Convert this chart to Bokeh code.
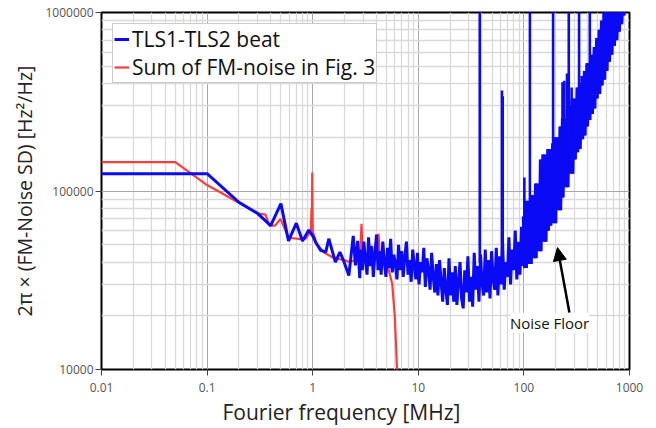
from bokeh.plotting import figure
from bokeh.models import (FixedTicker, Legend, LegendItem, Label, Arrow, NormalHead,
                          CustomJSTickFormatter, Title)
from bokeh.embed import file_html
from bokeh.resources import INLINE

# ---------------- data ----------------
# TLS1-TLS2 beat, low-frequency part [MHz], [Hz^2/Hz]
beat_low_freq = [0.01, 0.1, 0.2, 0.3, 0.4, 0.5, 0.59, 0.7, 0.8, 0.92,
                 1.02, 1.06, 1.19, 1.33, 1.42, 1.64, 1.81, 1.95, 2.2, 2.42,
                 2.54, 2.67, 2.79]
beat_low_value = [125000, 125000, 86500, 75000, 64000, 85000, 52500, 66000, 52500, 60500,
                  55000, 52000, 46500, 45500, 54000, 40000, 45500, 41000, 33600, 56000,
                  38300, 52600, 32500]

# beat, noisy mid band 2.85 - 100 MHz
beat_mid_freq = [2.85, 2.95, 3.05, 3.16, 3.27, 3.38, 3.5, 3.62, 3.75, 3.88,
                 4.02, 4.16, 4.3, 4.45, 4.61, 4.77, 4.94, 5.11, 5.29, 5.47,
                 5.66, 5.86, 6.07, 6.28, 6.5, 6.73, 6.96, 7.2, 7.46, 7.72,
                 7.99, 8.27, 8.56, 8.86, 9.17, 9.49, 9.82, 10.16, 10.52, 10.89,
                 11.27, 11.66, 12.07, 12.49, 12.93, 13.38, 13.85, 14.33, 14.83, 15.35,
                 15.89, 16.45, 17.02, 17.62, 18.23, 18.87, 19.53, 20.21, 20.92, 21.65,
                 22.41, 23.19, 24.0, 24.84, 25.71, 26.61, 27.54, 28.5, 29.5, 30.53,
                 31.6, 32.71, 33.85, 35.04, 36.26, 37.53, 38.84, 40.2, 41.61, 43.07,
                 44.58, 46.14, 47.75, 49.42, 51.15, 52.94, 54.79, 56.71, 58.69, 60.75,
                 62.87, 65.07, 67.35, 69.71, 72.15, 74.68, 77.29, 80.0, 82.8, 85.7,
                 88.7, 91.8, 95.0, 98.3]
beat_mid_value = [47000, 36000, 52000, 41000, 34000, 55000, 38000, 49000, 33000, 44000,
                  57000, 36000, 46000, 34000, 52000, 40000, 33000, 48000, 37000, 54000,
                  35000, 44000, 39000, 32000, 50000, 36000, 46000, 33000, 43000, 52000,
                  34000, 41000, 31000, 47000, 38000, 32000, 45000, 30000, 40000, 35000,
                  48000, 29000, 42000, 36000, 28000, 45000, 33000, 27000, 39000, 26000,
                  41000, 31000, 24000, 37000, 28000, 23000, 42000, 26000, 35000, 24000,
                  38000, 23000, 31000, 40000, 25000, 22000, 36000, 27000, 43000, 24000,
                  33000, 22500, 45000, 28000, 38000, 24000, 44000, 30000, 26000, 47000,
                  27000, 41000, 25000, 46000, 32000, 28000, 48000, 26000, 43000, 30000,
                  51000, 28000, 40000, 33000, 55000, 30000, 47000, 36000, 60000, 32000,
                  52000, 34000, 63000, 38000]

# beat, rising band 100 - 880 MHz
beat_high_freq = [100.8, 103.5, 106.3, 109.2, 112.1, 115.1, 118.2, 121.4, 124.7, 128.1,
                  131.6, 135.1, 138.8, 142.5, 146.4, 150.3, 154.4, 158.6, 162.9, 167.3,
                  171.8, 176.4, 181.2, 186.1, 191.1, 196.3, 201.6, 207.0, 212.6, 218.4,
                  224.3, 230.3, 236.5, 242.9, 249.5, 256.2, 263.1, 270.2, 277.5, 285.0,
                  292.7, 300.6, 308.7, 317.0, 325.6, 334.4, 343.4, 352.7, 362.2, 372.0,
                  382.0, 392.3, 402.9, 413.8, 425.0, 436.5, 448.3, 460.4, 472.8, 485.6,
                  498.7, 512.2, 526.0, 540.2, 554.8, 569.8, 585.2, 601.0, 617.2, 633.9,
                  651.0, 668.6, 686.7, 705.2, 724.2, 743.8, 763.9, 784.5, 805.7, 827.5,
                  849.8, 872.7]
beat_high_value = [72000, 37000, 88000, 45000, 80000, 39000, 95000, 48000, 86000, 42000,
                   110000, 50000, 98000, 46000, 150000, 58000, 160000, 52000, 145000, 60000,
                   172000, 64000, 150000, 70000, 185000, 66000, 200000, 82000, 178000, 78000,
                   230000, 92000, 255000, 110000, 238000, 105000, 285000, 130000, 300000, 125000,
                   330000, 150000, 310000, 165000, 380000, 172000, 400000, 195000, 440000, 205000,
                   470000, 230000, 520000, 250000, 500000, 270000, 580000, 290000, 640000, 330000,
                   720000, 350000, 800000, 390000, 900000, 420000, 1100000, 470000, 1200000, 530000,
                   1200000, 580000, 1200000, 650000, 1200000, 700000, 1200000, 780000, 1200000, 860000,
                   1200000, 960000]

# narrow spurs on the beat trace
spike_freq = [38.2, 62.0, 63.0, 101.0, 114.0, 189.0, 232.0, 241.0, 256.0, 266.0, 283.0, 333.0, 421.0]
spike_base = [40000, 35000, 35000, 60000, 60000, 100000, 130000, 140000, 150000, 160000, 200000, 250000, 350000]
spike_top = [1200000, 366000, 340000, 119000, 1200000, 1200000, 407000, 415000, 455000, 1200000, 380000, 1200000, 1200000]

# Sum of FM-noise in Fig. 3
fm_sum_freq = [0.01, 0.05, 0.1, 0.2, 0.3, 0.357, 0.39, 0.44, 0.496, 0.59,
               0.77, 0.86, 0.96, 0.975, 0.98, 0.99, 1.0, 1.01, 1.1, 1.3,
               1.6, 2.0, 2.24, 2.8, 2.9, 2.98, 3.3, 3.6, 3.72, 4.2,
               4.35, 5.07, 5.66, 6.0, 6.31]
fm_sum_value = [145000, 145000, 108000, 86000, 75000, 73800, 64000, 64000, 69800, 54700,
                53800, 54000, 60000, 80000, 60000, 127000, 62000, 58000, 50000, 45000,
                42000, 41000, 40000, 42000, 65500, 40000, 40000, 49500, 40000, 57600,
                40000, 39000, 30200, 19600, 9500]

x_ticks = [0.01, 0.1, 1, 10, 100, 1000]
x_tick_labels = ["0.01", "0.1", "1", "10", "100", "1000"]
y_ticks = [10000, 100000, 1000000]
y_tick_labels = ["10000", "100000", "1000000"]

x_title = "Fourier frequency [MHz]"
y_title = "2\u03c0 \u00d7 (FM-Noise SD) [Hz\u00b2/Hz]"

annotation_text = "Noise Floor"
annotation_pos = (175.0, 18300)
arrow_start = (270.0, 20800)
arrow_end = (208.0, 48200)

# ---------------- figure ----------------
beat_freq = beat_low_freq + beat_mid_freq + beat_high_freq
beat_value = beat_low_value + beat_mid_value + beat_high_value

BLUE = "#0a0af5"
RED = "#ff3c3c"
FONT = "Open Sans"

p = figure(width=656, height=428, x_axis_type="log", y_axis_type="log",
           x_range=(0.01, 1000), y_range=(10000, 1000000),
           output_backend="svg", toolbar_location=None,
           min_border_left=101, min_border_right=27, min_border_top=12, min_border_bottom=59)

p.background_fill_color = "white"
p.border_fill_color = "white"
p.outline_line_color = "black"
p.outline_line_width = 2

def minors(lo, hi):
    out = []
    for e in range(lo, hi):
        for m in range(2, 10):
            out.append(m * 10.0 ** e)
    return out

p.xaxis.ticker = FixedTicker(ticks=x_ticks, minor_ticks=minors(-2, 3))
p.yaxis.ticker = FixedTicker(ticks=y_ticks, minor_ticks=minors(4, 6))

fmt_code = """
for (let i = 0; i < tv.length; i++) {
  if (Math.abs(tv[i] - tick) <= 1e-9 * Math.abs(tv[i])) return tl[i];
}
return "";
"""
p.xaxis.formatter = CustomJSTickFormatter(args=dict(tv=x_ticks, tl=x_tick_labels), code=fmt_code)
p.yaxis.formatter = CustomJSTickFormatter(args=dict(tv=y_ticks, tl=y_tick_labels), code=fmt_code)

for g in (p.xgrid, p.ygrid):
    g.grid_line_color = "#a8a8a8"
    g.grid_line_width = 1
    g.minor_grid_line_color = "#d9d9d9"
    g.minor_grid_line_width = 1.3

for ax in (p.xaxis, p.yaxis):
    ax.axis_line_color = None
    ax.major_tick_line_color = "#444444"
    ax.major_tick_out = 6
    ax.major_tick_in = 0
    ax.minor_tick_line_color = None
    ax.major_label_text_font = FONT
    ax.major_label_text_font_size = "12px"
    ax.major_label_text_color = "#555555"
    ax.axis_label_text_font = FONT
    ax.axis_label_text_font_style = "normal"
    ax.axis_label_text_color = "#222222"

p.yaxis.axis_label = y_title
p.yaxis.axis_label_text_font_size = "19.5px"
p.xaxis.major_label_standoff = 7
p.yaxis.major_label_standoff = 2
p.yaxis.axis_label_standoff = 4

p.add_layout(Title(text=x_title, align="left", offset=121, standoff=2,
                   text_font=FONT, text_font_size="21px", text_font_style="normal",
                   text_color="#222222"), "below")

red_r = p.line(fm_sum_freq, fm_sum_value, line_color=RED, line_width=2.2)
blue_r = p.line(beat_freq, beat_value, line_color=BLUE, line_width=3.0)
p.line(beat_high_freq, beat_high_value, line_color=BLUE, line_width=5.0)
p.segment(x0=spike_freq, y0=spike_base, x1=spike_freq, y1=spike_top,
          line_color=BLUE, line_width=2.6)

legend = Legend(items=[LegendItem(label="TLS1-TLS2 beat", renderers=[blue_r]),
                       LegendItem(label="Sum of FM-noise in Fig. 3", renderers=[red_r])],
                location="top_left", margin=11, padding=1, spacing=0,
                glyph_width=15, glyph_height=24, label_height=24, label_standoff=3,
                label_text_font=FONT, label_text_font_size="21px", label_text_color="#111111",
                border_line_color="#9a9a9a", border_line_width=1,
                background_fill_color="white", background_fill_alpha=1.0)
p.add_layout(legend)

p.add_layout(Arrow(end=NormalHead(size=13, fill_color="black", line_color="black"),
                   x_start=arrow_start[0], y_start=arrow_start[1],
                   x_end=arrow_end[0], y_end=arrow_end[1],
                   line_color="black", line_width=2.5))
p.add_layout(Label(x=annotation_pos[0], y=annotation_pos[1], text=annotation_text,
                   text_align="center", text_baseline="middle",
                   text_font=FONT, text_font_size="15px", text_color="#111111",
                   background_fill_color="white", background_fill_alpha=1.0))

open("out.html", "w").write(file_html(p, INLINE))
